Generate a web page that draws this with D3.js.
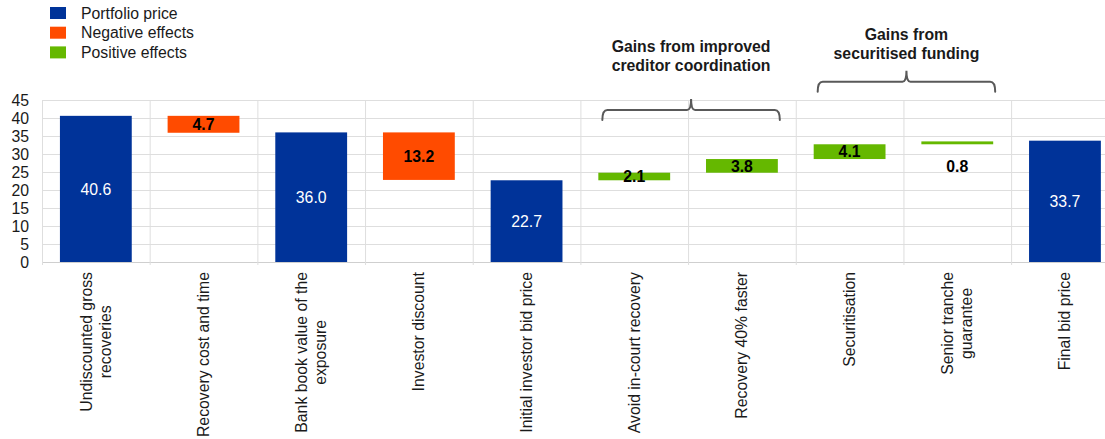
<!DOCTYPE html>
<html><head><meta charset="utf-8">
<script src="https://cdn.jsdelivr.net/npm/d3@7"></script>
<style>
html,body{margin:0;padding:0;background:#fff;overflow:hidden;}
svg{display:block;font-family:"Liberation Sans",Arial,sans-serif;}
</style></head>
<body>
<svg id="chart" width="1105" height="439"></svg>
<script>
// ---- data ----
const categories = [
  "Undiscounted gross\nrecoveries",
  "Recovery cost and time",
  "Bank book value of the\nexposure",
  "Investor discount",
  "Initial investor bid price",
  "Avoid in-court recovery",
  "Recovery 40% faster",
  "Securitisation",
  "Senior tranche\nguarantee",
  "Final bid price"
];
const values = [40.6, 4.7, 36.0, 13.2, 22.7, 2.1, 3.8, 4.1, 0.8, 33.7];
const kinds  = ["total","neg","total","neg","total","pos","pos","pos","pos","total"];
const yTicks = [0,5,10,15,20,25,30,35,40,45];
const legendLabels = ["Portfolio price","Negative effects","Positive effects"];
const legendKinds = ["total","neg","pos"];
const groupLabels = [["Gains from improved","creditor coordination"],["Gains from","securitised funding"]];
const groupSpans = [[5,6],[7,8]];

// ---- style ----
const colors = {total:"#003399", neg:"#FF4B00", pos:"#65B800"};
const FS = 15.8;
const svg = d3.select("#chart");
const plotL = 42, plotR = 1118.8, plotT = 100, plotB = 262;

const x = d3.scaleBand().domain(d3.range(categories.length)).range([plotL, plotR]).paddingInner(0.333).paddingOuter(0.1665);
const step = x.step();
const y = d3.scaleLinear().domain([0,45]).range([plotB, plotT]);

// waterfall
let run = 0;
const bars = values.map((v,i)=>{
  let lo, hi;
  if (kinds[i]==="total"){ lo=0; hi=v; run=v; }
  else if (kinds[i]==="neg"){ hi=run; lo=run-v; run=lo; }
  else { lo=run; hi=run+v; run=hi; }
  return {i, v, lo, hi, kind:kinds[i]};
});

// gridlines
const grid = svg.append("g");
grid.selectAll("line.h").data(yTicks).join("line")
  .attr("x1", plotL).attr("x2", plotR)
  .attr("y1", d=>y(d)+0.5).attr("y2", d=>y(d)+0.5)
  .attr("stroke", d=> d===0 ? "#cfcfcf" : "#dedede").attr("stroke-width",1);
grid.selectAll("line.v").data(d3.range(categories.length+1)).join("line")
  .attr("x1", d=>plotL + d*step + 0.5).attr("x2", d=>plotL + d*step + 0.5)
  .attr("y1", plotT).attr("y2", plotB+3)
  .attr("stroke","#dedede").attr("stroke-width",1);

// y axis
const ya = svg.append("g").attr("transform",`translate(${plotL},0)`)
  .call(d3.axisLeft(y).tickValues(yTicks).tickSize(0).tickPadding(13));
ya.select(".domain").remove();
ya.selectAll("text").attr("font-size",FS).attr("fill","#1a1a1a").attr("font-family","Liberation Sans, Arial, sans-serif");

// bars
svg.append("g").selectAll("rect").data(bars).join("rect")
  .attr("x", d=>x(d.i)).attr("width", x.bandwidth())
  .attr("y", d=>y(d.hi)).attr("height", d=>Math.max(1, y(d.lo)-y(d.hi)))
  .attr("fill", d=>colors[d.kind]);

// value labels
svg.append("g").selectAll("text").data(bars).join("text")
  .attr("x", d=>x(d.i)+x.bandwidth()/2)
  .attr("y", d=>{
    const h = y(d.lo)-y(d.hi);
    if (h < 4) return y(d.lo) + 22;
    return (y(d.lo)+y(d.hi))/2;
  })
  .attr("dy","0.36em")
  .attr("text-anchor","middle")
  .attr("font-size",FS)
  .attr("font-weight", d=>d.kind==="total" ? "normal" : "bold")
  .attr("fill", d=>d.kind==="total" ? "#fff" : "#000")
  .text(d=>d.v.toFixed(1));

// category labels (rotated)
const lh = 19, labTop = 272;
const cl = svg.append("g");
categories.forEach((c,i)=>{
  const lines = c.split("\n");
  const cx = x(i)+x.bandwidth()/2;
  const t = cl.append("text").attr("text-anchor","middle").attr("font-size",FS).attr("fill","#1a1a1a");
  lines.forEach((ln,k)=>{
    t.append("tspan").attr("x",0).attr("y", (k-(lines.length-1)/2)*lh).attr("dy","0.35em").text(ln);
  });
  let maxLen = 0;
  t.selectAll("tspan").each(function(){ maxLen = Math.max(maxLen, this.getComputedTextLength()); });
  t.attr("transform",`translate(${cx},${labTop+maxLen/2}) rotate(-90)`);
});

// legend
const lg = svg.append("g");
legendLabels.forEach((l,k)=>{
  const yy = 7 + k*19.7;
  lg.append("rect").attr("x",50).attr("y",yy).attr("width",16).attr("height",12).attr("fill",colors[legendKinds[k]]);
  lg.append("text").attr("x",81).attr("y",yy+6).attr("dy","0.36em").attr("font-size",FS).attr("fill","#1a1a1a").text(l);
});

// group brackets
const bracketY = [110, 81.7];
const textY = [46, 34];
groupSpans.forEach((sp,g)=>{
  const x1 = x(sp[0]) + 4, x2 = x(sp[1]) + x.bandwidth() + 2;
  const cx = (x1+x2)/2, yy = bracketY[g];
  svg.append("path")
    .attr("d", `M${x1},${yy+10} Q${x1},${yy} ${x1+5},${yy} L${cx-4},${yy} Q${cx},${yy} ${cx},${yy-11} Q${cx},${yy} ${cx+4},${yy} L${x2-5},${yy} Q${x2},${yy} ${x2},${yy+10}`)
    .attr("fill","none").attr("stroke","#595959").attr("stroke-width",2).attr("stroke-linecap","round");
  const t = svg.append("text").attr("text-anchor","middle").attr("font-size",FS).attr("font-weight","bold").attr("fill","#1a1a1a");
  groupLabels[g].forEach((ln,k)=>{
    t.append("tspan").attr("x",cx).attr("y", textY[g] + k*19).attr("dy","0.36em").text(ln);
  });
});
</script>
</body></html>
